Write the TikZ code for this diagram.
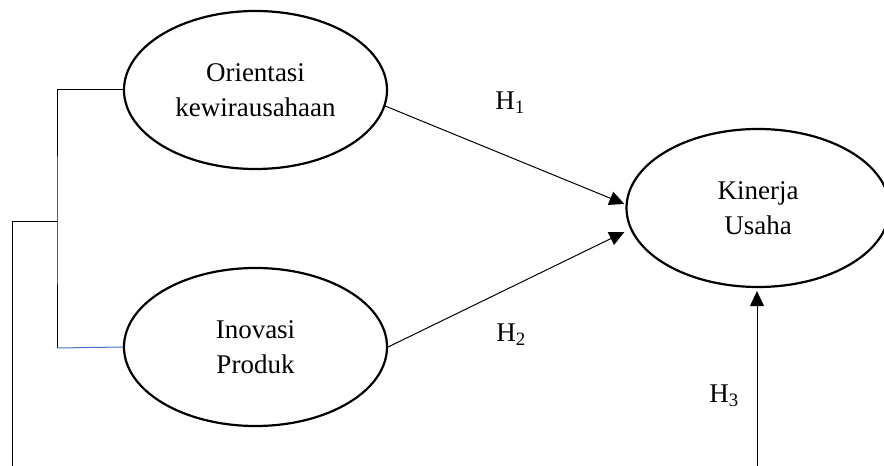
\documentclass[tikz,border=0pt]{standalone}
\usepackage{fontspec}
\setmainfont{Liberation Serif}
\usetikzlibrary{shapes.geometric,arrows.meta}
\definecolor{linkblue}{RGB}{68,114,196}
\tikzset{
  construct/.style={ellipse,draw,line width=2.2pt,minimum width=263pt,minimum height=158pt,inner sep=0pt,align=center,font=\fontsize{27}{35}\selectfont},
  conn/.style={line width=1pt},
  path/.style={line width=1pt,-{Triangle[length=15pt,width=14pt]}},
  hlabel/.style={font=\fontsize{27}{32}\selectfont}
}
\begin{document}
\begin{tikzpicture}[x=1pt,y=1pt]
\useasboundingbox (0,0) rectangle (884,466);
\clip (0,0) rectangle (884,466);
\node[construct] (orient) at (255.5,376) {Orientasi\\kewirausahaan};
\node[construct] (inov) at (255.5,119) {Inovasi\\Produk};
\node[construct] (kin) at (758,258) {Kinerja\\Usaha};
\coordinate (jn) at (57,244);
\coordinate (bl) at (57,118);
\coordinate (ot) at (12,244);
\coordinate (ob) at (12,0);
\coordinate (hs) at (757,0);
\draw[conn] (orient.west) -| (jn) -- (bl);
\draw[conn,linkblue] (bl) -- (inov.west);
\draw[conn] (jn) -- (ot) -- (ob);
\draw[path] ([xshift=-3pt,yshift=-16pt]orient.east) -- ([xshift=-1pt,yshift=4pt]kin.west);
\draw[path] (inov.east) -- ([xshift=-1pt,yshift=-24pt]kin.west);
\draw[path,shorten >=3pt] (hs) -- (kin.south -| hs);
\node[hlabel] (h1) at (510,363) {H\textsubscript{1}};
\node[hlabel] (h2) at (511,131) {H\textsubscript{2}};
\node[hlabel] (h3) at (724,70) {H\textsubscript{3}};
\end{tikzpicture}
\end{document}
